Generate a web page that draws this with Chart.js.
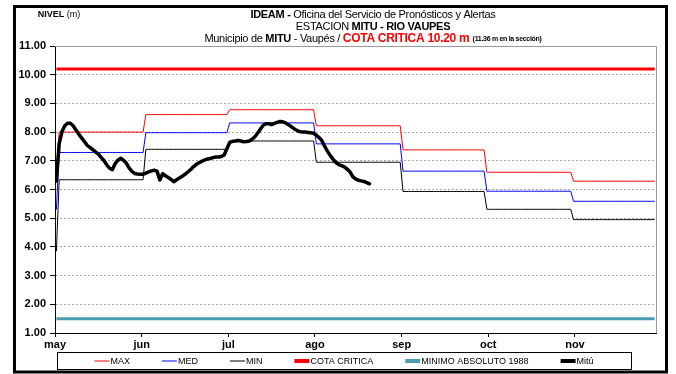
<!DOCTYPE html>
<html>
<head>
<meta charset="utf-8">
<title>IDEAM - Estación Mitú - Río Vaupés</title>
<script src="https://cdn.jsdelivr.net/npm/chart.js@4.4.0/dist/chart.umd.min.js"></script>
<style>
  html, body { margin: 0; padding: 0; background: #ffffff; }
  #wrap { position: relative; width: 676px; height: 374px; }
</style>
</head>
<body>
<div id="wrap"><canvas id="chart" width="676" height="374"></canvas></div>
<script>
// Month tick labels and the number of days in each month (May - Nov)
const monthLabels = ['may', 'jun', 'jul', 'ago', 'sep', 'oct', 'nov'];
const monthDays = [31, 30, 31, 31, 30, 31, 30];

// Monthly reference levels (m) for the station
const maxLevels = [8.00, 8.61, 8.78, 8.22, 7.38, 6.60, 6.29];
const medLevels = [7.29, 7.98, 8.32, 7.59, 6.64, 5.94, 5.59];
const minLevels = [6.34, 7.40, 7.69, 6.95, 5.93, 5.31, 4.95];

// Closing values of the previous month (first point of each reference series)
const prevMonthLevels = [6.75, 5.30, 3.85]; // MAX, MED, MIN

// Fixed thresholds (m)
const cotaCritica = 10.20;
const minimoAbsoluto = 1.50;

// Daily observed level at Mitú (m), starting on the last day of April
const mituLevels = [
  6.30, 7.60, 8.02, 8.22, 8.31, 8.31, 8.22, 8.07, 7.93, 7.80,
  7.67, 7.54, 7.47, 7.39, 7.31, 7.23, 7.12, 7.01, 6.86, 6.74,
  6.69, 6.90, 7.02, 7.09, 7.02, 6.92, 6.75, 6.63, 6.56, 6.54,
  6.53, 6.53, 6.57, 6.61, 6.65, 6.67, 6.64, 6.33, 6.55, 6.48,
  6.42, 6.35, 6.27, 6.34, 6.40, 6.46, 6.53, 6.61, 6.69, 6.79,
  6.87, 6.93, 6.98, 7.03, 7.06, 7.08, 7.11, 7.13, 7.13, 7.15,
  7.20, 7.42, 7.64, 7.68, 7.69, 7.71, 7.69, 7.66, 7.67, 7.69,
  7.75, 7.84, 7.97, 8.11, 8.24, 8.29, 8.29, 8.26, 8.30, 8.34,
  8.37, 8.36, 8.32, 8.26, 8.19, 8.12, 8.06, 8.02, 8.00, 8.00,
  7.99, 7.98, 7.96, 7.89, 7.81, 7.70, 7.50, 7.33, 7.18, 7.05,
  6.94, 6.87, 6.83, 6.79, 6.71, 6.62, 6.45, 6.37, 6.32, 6.30,
  6.28, 6.24, 6.20
];

const FONT = '"Liberation Sans", Arial, Helvetica, sans-serif';

// Expand monthly levels into one point per day (index 0 = last day of April)
function dailySeries(first, monthly) {
  const pts = [{ x: 0, y: first }];
  let day = 1;
  monthly.forEach((v, m) => {
    for (let d = 0; d < monthDays[m]; d++) pts.push({ x: day++, y: v });
  });
  return pts;
}
const totalDays = monthDays.reduce((a, b) => a + b, 0) + 1;
function constantSeries(v) {
  const pts = [];
  for (let i = 0; i < totalDays; i++) pts.push({ x: i, y: v });
  return pts;
}
const mituPoints = mituLevels.map((v, i) => ({ x: i, y: v }));

// Category-style x axis: each day is a slot, ticks every 31 slots
const tickStep = 31;
const monthTickValues = monthLabels.map((_, i) => -0.5 + tickStep * i);

// Title lines drawn as styled runs of text
const titleLines = [
  { y: 15, runs: [
    { t: 'IDEAM - ', f: 'bold 11px ' + FONT, c: '#000' },
    { t: 'Oficina del Servicio de Pronósticos y Alertas', f: '11px ' + FONT, c: '#000' }
  ]},
  { y: 27, runs: [
    { t: 'ESTACION ', f: '11px ' + FONT, c: '#000' },
    { t: 'MITU - RIO VAUPES', f: 'bold 11px ' + FONT, c: '#000' }
  ]},
  { y: 39, runs: [
    { t: 'Municipio de ', f: '11px ' + FONT, c: '#000' },
    { t: 'MITU', f: 'bold 11px ' + FONT, c: '#000' },
    { t: ' - Vaupés / ', f: '11px ' + FONT, c: '#000' },
    { t: 'COTA CRITICA 10.20 m', f: 'bold 12px ' + FONT, c: '#ff0000' },
    { t: '  (11.36 m en la sección)', f: 'bold 7px ' + FONT, c: '#000' }
  ]}
];

function drawRuns(ctx, runs, cx, y, letterSpacing) {
  ctx.save();
  ctx.textBaseline = 'middle';
  ctx.textAlign = 'left';
  if ('letterSpacing' in ctx) ctx.letterSpacing = letterSpacing + 'px';
  let total = 0;
  runs.forEach(r => { ctx.font = r.f; r.w = ctx.measureText(r.t).width; total += r.w; });
  let x = cx - total / 2;
  runs.forEach(r => { ctx.font = r.f; ctx.fillStyle = r.c; ctx.fillText(r.t, x, y); x += r.w; });
  ctx.restore();
}

const decorPlugin = {
  id: 'decor',
  afterDraw(chart) {
    const ctx = chart.ctx;
    const a = chart.chartArea;

    // light border on the top and right of the plot area
    ctx.save();
    ctx.strokeStyle = '#9a9a9a';
    ctx.lineWidth = 1;
    ctx.beginPath();
    ctx.moveTo(a.left, Math.round(a.top) + 0.5);
    ctx.lineTo(Math.round(a.right) + 0.5, Math.round(a.top) + 0.5);
    ctx.lineTo(Math.round(a.right) + 0.5, a.bottom);
    ctx.stroke();
    ctx.restore();

    // titles
    titleLines.forEach(l => drawRuns(ctx, l.runs, 373, l.y, -0.3));
    drawRuns(ctx, [
      { t: 'NIVEL', f: 'bold 9px ' + FONT, c: '#000' },
      { t: ' (m)', f: '9px ' + FONT, c: '#000' }
    ], 59, 15, 0);

    // legend
    const items = chart.data.datasets.map(ds => ({
      label: ds.label, color: ds.borderColor, width: ds.legendWidth
    }));
    const sample = 15, gap = 32, ly = 361;
    ctx.save();
    ctx.font = '9px ' + FONT;
    let total = 0;
    items.forEach(it => { it.w = sample + 1 + ctx.measureText(it.label).width; total += it.w; });
    total += gap * (items.length - 1);
    let x = 344 - total / 2;
    items.forEach(it => {
      ctx.strokeStyle = it.color;
      ctx.lineWidth = it.width;
      ctx.beginPath();
      ctx.moveTo(x, ly);
      ctx.lineTo(x + sample, ly);
      ctx.stroke();
      ctx.fillStyle = '#000';
      ctx.textBaseline = 'middle';
      ctx.fillText(it.label, x + sample + 1, ly + 0.5);
      x += it.w + gap;
    });
    ctx.strokeStyle = '#000';
    ctx.lineWidth = 1;
    ctx.strokeRect(57.5, 352.5, 574, 17);
    ctx.restore();

    // outer frame
    ctx.save();
    ctx.strokeStyle = '#000';
    ctx.lineWidth = 3;
    ctx.strokeRect(14.5, 6.5, 652, 365.5);
    ctx.restore();
  }
};

const lineDefaults = { pointRadius: 0, tension: 0, fill: false, borderJoinStyle: 'round' };

new Chart(document.getElementById('chart'), {
  type: 'line',
  data: {
    datasets: [
      Object.assign({ label: 'MAX', data: dailySeries(prevMonthLevels[0], maxLevels), borderColor: '#ff0000', borderWidth: 1, legendWidth: 1 }, lineDefaults),
      Object.assign({ label: 'MED', data: dailySeries(prevMonthLevels[1], medLevels), borderColor: '#0000ff', borderWidth: 1, legendWidth: 1 }, lineDefaults),
      Object.assign({ label: 'MIN', data: dailySeries(prevMonthLevels[2], minLevels), borderColor: '#000000', borderWidth: 1, legendWidth: 1 }, lineDefaults),
      Object.assign({ label: 'COTA CRITICA', data: constantSeries(cotaCritica), borderColor: '#ff0000', borderWidth: 3, legendWidth: 4 }, lineDefaults),
      Object.assign({ label: 'MINIMO ABSOLUTO 1988', data: constantSeries(minimoAbsoluto), borderColor: '#4a9db5', borderWidth: 3, legendWidth: 4 }, lineDefaults),
      Object.assign({ label: 'Mitú', data: mituPoints, borderColor: '#000000', borderWidth: 3.5, legendWidth: 4, order: -1, borderCapStyle: 'round' }, lineDefaults)
    ]
  },
  options: {
    responsive: false,
    animation: false,
    events: [],
    layout: { padding: { left: 0, top: 46, right: 20, bottom: 21 } },
    plugins: { legend: { display: false }, title: { display: false }, tooltip: { enabled: false } },
    scales: {
      x: {
        type: 'linear',
        min: -0.5,
        max: totalDays - 0.5,
        afterBuildTicks(scale) { scale.ticks = monthTickValues.map(v => ({ value: v })); },
        afterFit(scale) { scale.height = 20; },
        ticks: {
          autoSkip: false, maxRotation: 0, padding: 1, color: '#000',
          font: { family: FONT, size: 11, weight: 'bold' },
          callback: (v, i) => monthLabels[i]
        },
        grid: { drawOnChartArea: false, drawTicks: true, tickLength: 4, tickColor: '#000', color: '#000' },
        border: { color: '#000', width: 1 }
      },
      y: {
        min: 1,
        max: 11,
        afterFit(scale) { scale.width = 55; },
        ticks: {
          stepSize: 1, padding: 4, color: '#000',
          font: { family: FONT, size: 11, weight: 'bold' },
          callback: v => v.toFixed(2)
        },
        grid: {
          color: c => (c.tick && (c.tick.value === 1 || c.tick.value === 11)) ? 'rgba(0,0,0,0)' : '#a8a8a8',
          tickColor: '#000', tickLength: 5, drawTicks: true
        },
        border: { color: '#000', width: 1, dash: [2, 2] }
      }
    }
  },
  plugins: [decorPlugin]
});
</script>
</body>
</html>
